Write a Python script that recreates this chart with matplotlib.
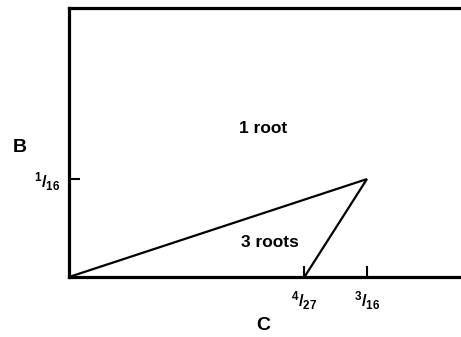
import matplotlib
matplotlib.use("Agg")
import matplotlib.pyplot as plt

plt.rcParams['font.family'] = ['Liberation Sans', 'DejaVu Sans']
plt.rcParams['font.weight'] = 'bold'
plt.rcParams['mathtext.fontset'] = 'custom'
plt.rcParams['mathtext.rm'] = 'Liberation Sans:bold'
plt.rcParams['mathtext.it'] = 'Liberation Sans:bold'
plt.rcParams['mathtext.bf'] = 'Liberation Sans:bold'

# Boundary of the three-root region in the (C, B) plane
boundary_c = [0.0, 3 / 16, 4 / 27]
boundary_b = [0.0, 1 / 16, 0.0]

x_ticks = [4 / 27, 3 / 16]
x_labels = [r'$^{4}/_{27}$', r'$^{3}/_{16}$']
y_ticks = [1 / 16]
y_labels = [r'$^{1}/_{16}$']

fig = plt.figure(figsize=(4.61, 3.37), dpi=100)
ax = fig.add_axes([0.1497, 0.178, 0.8503, 0.798])

ax.plot(boundary_c, boundary_b, color='black', lw=1.6, solid_joinstyle='miter')

ax.set_xlim(0, 0.2467)
ax.set_ylim(0, 0.1716)

ax.spines['right'].set_visible(False)
for s in ('left', 'bottom', 'top'):
    ax.spines[s].set_linewidth(2.3)

ax.set_xticks(x_ticks)
ax.set_xticklabels(x_labels, fontsize=12)
ax.set_yticks(y_ticks)
ax.set_yticklabels(y_labels, fontsize=12)
ax.tick_params(direction='in', length=8, width=1.5)
ax.tick_params(axis='x', pad=9)
ax.tick_params(axis='y', pad=6)

# Axis names
fig.text(20 / 461, 1 - 147 / 337, 'B', fontsize=14, fontweight='bold',
         ha='center', va='center')
fig.text(263 / 461, 1 - 325 / 337, 'C', fontsize=14, fontweight='bold',
         ha='center', va='center')

# Region labels
ax.text(0.1221, 0.095, '1 root', fontsize=12.5, fontweight='bold', ha='center', va='center')
ax.text(0.1265, 0.0223, '3 roots', fontsize=12.5, fontweight='bold', ha='center', va='center')

fig.savefig('out.png', dpi=100)
